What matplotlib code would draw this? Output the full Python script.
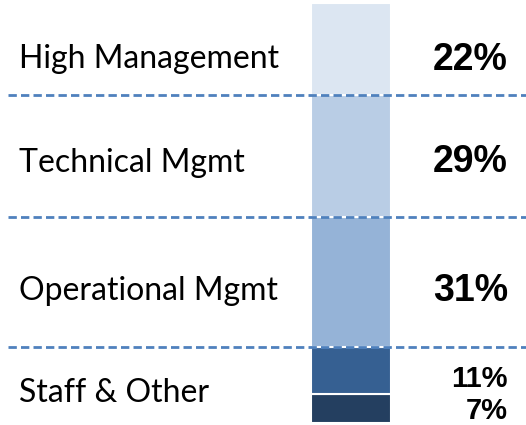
import matplotlib.pyplot as plt

# data (bottom to top)
levels = ["Staff & Other", "Operational Mgmt", "Technical Mgmt", "High Management"]
shares = [7, 11, 31, 29, 22]
share_labels = ["7%", "11%", "31%", "29%", "22%"]
colors = ["#243F60", "#366092", "#95B3D7", "#B9CDE5", "#DCE6F2"]

W, H = 526, 425
fig = plt.figure(figsize=(W / 100, H / 100), dpi=100)
ax = fig.add_axes([0, 2 / H, 1, 420 / H])
ax.set_xlim(0, W)
ax.set_ylim(0, 100)
ax.axis('off')


def py(p):
    # pixel row (from top) -> data y
    return (423 - p) * 100 / 420


# stacked single bar
bottom = 0
for val, col in zip(shares, colors):
    ax.bar(351, val, width=80, bottom=bottom, color=col, edgecolor='white', linewidth=1.5)
    bottom += val

# dashed separators between groups
cum = [sum(shares[:2]), sum(shares[:3]), sum(shares[:4])]
for y in cum:
    ax.plot([8, W], [y, y], color='#4F81BD', lw=2, ls=(0, (3, 1.5)))

label_font = ['Lato', 'DejaVu Sans']
# category labels, baselines
label_base = {"High Management": 68, "Technical Mgmt": 172,
              "Operational Mgmt": 300, "Staff & Other": 402}
for name in levels:
    ax.text(19, py(label_base[name]), name, fontsize=23, family=label_font,
            ha='left', va='baseline', color='black')

# percentage labels
pct_pos = {"22%": (70, 27), "29%": (172, 27), "31%": (301, 27),
           "11%": (387, 21), "7%": (419, 21)}
for lab in share_labels:
    b, fs = pct_pos[lab]
    ax.text(508, py(b), lab, fontsize=fs, fontweight='bold', family='Liberation Sans',
            ha='right', va='baseline', color='black')

fig.savefig('out.png', dpi=100)
